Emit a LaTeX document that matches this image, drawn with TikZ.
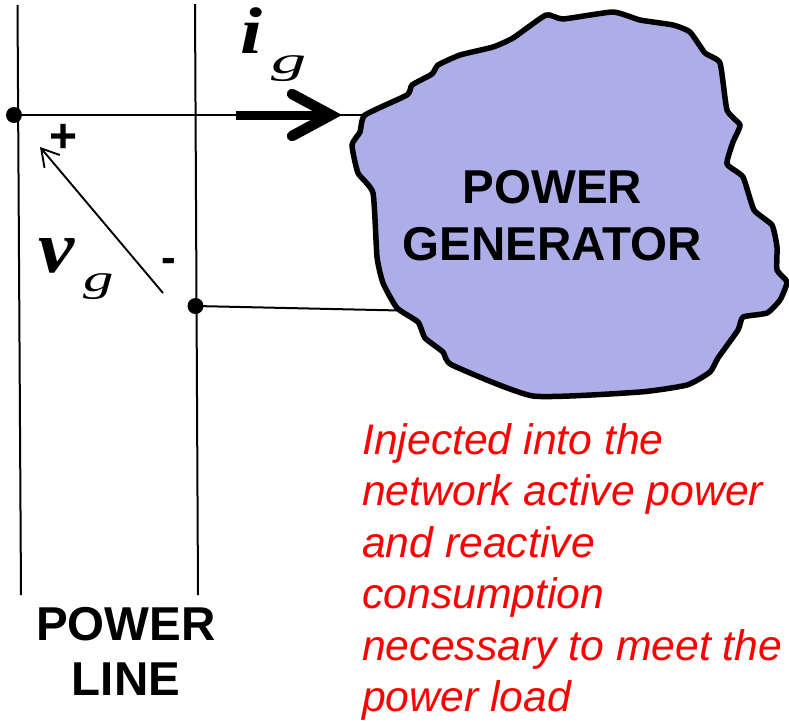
\documentclass[tikz,border=0pt]{standalone}
\usepackage{fontspec}
\setmainfont{Liberation Sans}
\newfontfamily\serifit{Liberation Serif}
\usetikzlibrary{arrows.meta}
\definecolor{blobfill}{RGB}{173,173,232}
\tikzset{
  wire/.style={draw=black,line width=2pt},
  dotnode/.style={circle,fill=black,inner sep=0pt,minimum size=16pt},
  boldlabel/.style={font=\fontsize{47.5}{55}\selectfont\bfseries,align=center,inner sep=0pt,text=black},
  redlabel/.style={font=\fontsize{42.7}{51.5}\selectfont\itshape,align=left,inner sep=0pt,text={rgb,255:red,255;green,0;blue,0},anchor=north west},
  signlabel/.style={font=\fontsize{48}{48}\selectfont\bfseries,inner sep=0pt},
  minuslabel/.style={font=\fontsize{44}{44}\selectfont\bfseries,inner sep=0pt},
  bigsym/.style={font=\fontsize{74}{74}\selectfont\serifit\bfseries\itshape,inner sep=0pt},
  isymstyle/.style={font=\fontsize{66}{66}\selectfont\serifit\bfseries\itshape,inner sep=0pt},
  subsym/.style={font=\fontsize{38}{38}\selectfont\serifit\itshape,inner sep=0pt},
}
\begin{document}
\begin{tikzpicture}[x=1pt,y=-1pt]
\useasboundingbox (0,0) rectangle (789,721);
% free ends
\coordinate (l1top) at (17.5,5);
\coordinate (l1bot) at (21,595);
\coordinate (l2top) at (195,4);
\coordinate (l2bot) at (198,595);
\coordinate (genA) at (366,115);
\coordinate (genB) at (400,310.5);
\coordinate (arrS) at (236,115);
\coordinate (arrE) at (331,115);
\coordinate (vS) at (163,293);
\coordinate (vE) at (40,147);
% wires
\node[dotnode] (d1) at (14,115) {};
\node[dotnode] (d2) at (195.5,306) {};
\draw[wire] (l1top) -- (l1bot);
\draw[wire] (l2top) -- (l2bot);
\draw[wire] (d1.center) -- (genA);
\draw[wire] (d2.center) -- (genB);
% generator outline
\draw[line width=5.5pt,line join=round,fill=blobfill]
  plot[smooth cycle,tension=0.3] coordinates {
  (365,115) (407,95) (412,85) (432,74) (438,65) (460,55) (493,47) (513,38)
  (546,15) (563,19) (613,12) (640,20) (673,25) (690,32) (705,53) (720,63)
  (727,110) (740,125) (733,142) (727,164) (743,177) (754,210) (772,225)
  (777,247) (777,270) (787,282) (780,300) (767,313) (743,317) (738,330)
  (718,358) (710,372) (687,385) (640,392) (533,396) (452,365) (443,352)
  (425,338) (418,322) (397,308) (383,283) (377,257) (373,193) (358,173)
  (352,145) (360,132)};
% current arrow
\draw[line width=9pt] (arrS) -- (arrE);
\draw[line width=10.5pt,line cap=round,line join=miter] (292,94) -- (arrE) -- (292,136);
% voltage arrow
\draw[line width=1.9pt,-{Straight Barb[length=17pt,width=20pt,line width=1.9pt]}] (vS) -- (vE);
% labels
\node[boldlabel] (gen) at (552.5,215.5) {POWER\\[2pt]GENERATOR};
\node[boldlabel] (line) at (126,651) {POWER\\LINE};
\node[redlabel] (note) at (362,423) {Injected into the\\network active power\\and reactive\\consumption\\necessary to meet the\\power load};
\node[signlabel] (plus) at (64,138) {+};
\node[minuslabel] (minus) at (169,265) {-};
\node[isymstyle,xscale=1.2] (isym) at (251,31) {i};
\node[subsym,xscale=1.85] (ig) at (289,69) {g};
\node[bigsym,xscale=1.1] (vsym) at (57,256) {v};
\node[subsym,xscale=1.6] (vg) at (99,287) {g};
\end{tikzpicture}
\end{document}
